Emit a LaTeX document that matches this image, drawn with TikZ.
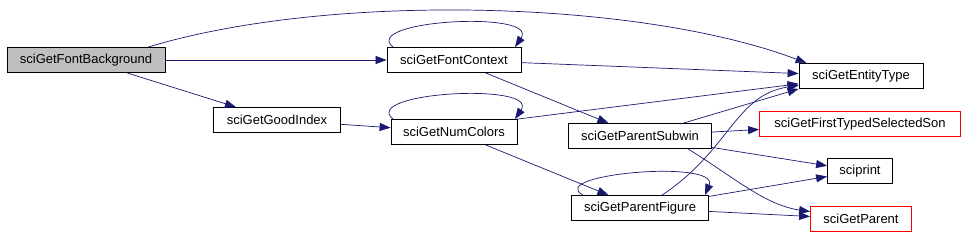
\documentclass[tikz,border=0pt]{standalone}
\usepackage{xcolor}
\usepackage{tikz}
\usepackage{fontspec}
\setmainfont{Liberation Sans}
\usetikzlibrary{arrows.meta, positioning, calc}
\definecolor{edgeblue}{HTML}{191970}
\definecolor{rootgray}{HTML}{BFBFBF}
\definecolor{missingred}{HTML}{FF0000}
\tikzstyle{func} = [rectangle, draw=black, line width=0.8pt, minimum height=25pt, inner sep=0pt, text centered, font=\fontsize{13}{15}\selectfont]
\tikzstyle{rootfunc} = [func, fill=rootgray]
\tikzstyle{extfunc} = [func, draw=missingred]
\tikzstyle{call} = [line width=0.7pt, color=edgeblue, -{Triangle[length=11pt, width=8pt]}]

\begin{document}
\begin{tikzpicture}[x=1pt, y=-1pt]
    \useasboundingbox (0,0) rectangle (965,235);
    \node[rootfunc, minimum width=158pt] (fb) at (86,60) {sciGetFontBackground};
    \node[func, minimum width=134pt] (fc) at (454,60) {sciGetFontContext};
    \node[func, minimum width=127pt] (gi) at (277,120) {sciGetGoodIndex};
    \node[func, minimum width=126pt] (nc) at (454,132) {sciGetNumColors};
    \node[func, minimum width=124pt] (et) at (861,76) {sciGetEntityType};
    \node[func, minimum width=143pt] (ps) at (640,136) {sciGetParentSubwin};
    \node[extfunc, minimum width=201pt] (fts) at (860,124) {sciGetFirstTypedSelectedSon};
    \node[func, minimum width=65pt] (sp) at (860,171) {sciprint};
    \node[func, minimum width=137pt] (pf) at (640,208) {sciGetParentFigure};
    \node[extfunc, minimum width=101pt] (gp) at (861,219) {sciGetParent};

    \draw[call] ([xshift=62pt]fb.north) .. controls (330,-8) and (640,0) .. ([xshift=8pt]et.north west);
    \draw[call] (fb) -- (fc);
    \draw[call] (fb) -- (gi);
    \draw[call] ([xshift=-61pt]fc.north) .. controls +(-33,-27) and +(25,-37) .. ([xshift=61pt]fc.north);
    \draw[call] (fc) -- (et);
    \draw[call] (fc) -- (ps);
    \draw[call] (gi) -- (nc);
    \draw[call] ([xshift=-61pt]nc.north) .. controls +(-33,-27) and +(25,-37) .. ([xshift=61pt]nc.north);
    \draw[call] (nc.north east) -- (et);
    \draw[call] (nc) -- (pf);
    \draw[call] (ps) -- (et.south west);
    \draw[call] (ps) -- (fts);
    \draw[call] (ps) -- (sp);
    \draw[call] ([xshift=48pt]ps.south) .. controls (735,178) and (765,205) .. (gp);
    \draw[call] ([xshift=-57pt]pf.north) .. controls +(-38,-21) and +(15,-36) .. ([xshift=65pt]pf.north);
    \draw[call] ([xshift=22pt]pf.north) .. controls (730,150) and (735,95) .. (et);
    \draw[call] (pf) -- (sp);
    \draw[call] (pf) -- (gp);
\end{tikzpicture}
\end{document}
